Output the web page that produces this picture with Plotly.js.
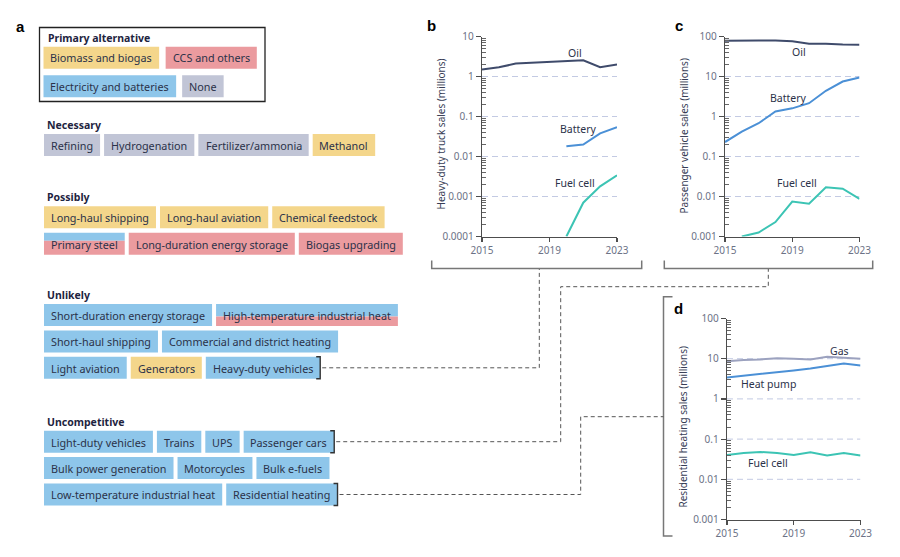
<!DOCTYPE html>
<html><head><meta charset="utf-8">
<script src="https://cdn.plot.ly/plotly-3.0.1.min.js"></script>
<style>html,body{margin:0;padding:0;background:#fff}#chart{width:900px;height:557px}</style>
</head><body><div id="chart"></div>
<script>
// ---------- DATA ----------
const years = [2015, 2016, 2017, 2018, 2019, 2020, 2021, 2022, 2023];
const truckOil = [1.5, 1.7, 2.1, 2.2, 2.3, 2.4, 2.55, 1.7, 2.0];
const truckBatteryYears = [2020, 2021, 2022, 2023];
const truckBattery = [0.018, 0.02, 0.038, 0.054];
const truckFuelCellYears = [2020, 2021, 2022, 2023];
const truckFuelCell = [0.0001, 0.0007, 0.0018, 0.0034];

const carOil = [78, 80, 80, 80, 76, 66, 66, 63, 62];
const carBattery = [0.23, 0.42, 0.68, 1.33, 1.6, 2.15, 4.4, 7.5, 9.4];
const carFuelCellYears = [2016, 2017, 2018, 2019, 2020, 2021, 2022, 2023];
const carFuelCell = [0.001, 0.00126, 0.0023, 0.0075, 0.0066, 0.0171, 0.0157, 0.0087];

const heatGas = [8.6, 9.3, 9.6, 10.2, 10, 9.6, 11.2, 10.8, 10];
const heatPump = [3.4, 3.75, 4.06, 4.55, 5.1, 5.7, 6.5, 7.6, 6.8];
const heatFuelCell = [0.04, 0.045, 0.048, 0.045, 0.04, 0.047, 0.039, 0.045, 0.039];

const xTickVals = [2015, 2019, 2023];
const truckTickVals = [10, 1, 0.1, 0.01, 0.001, 0.0001];
const truckTickText = ['10', '1', '0.1', '0.01', '0.001', '0.0001'];
const carTickVals = [100, 10, 1, 0.1, 0.01, 0.001];
const carTickText = ['100', '10', '1', '0.1', '0.01', '0.001'];
const heatTickVals = [100, 10, 1, 0.1, 0.01, 0.001];
const heatTickText = ['100', '10', '1', '0.1', '0.01', '0.001'];
const truckGridVals = [1, 0.1, 0.01, 0.001];
const carGridVals = [10, 1, 0.1, 0.01];
const heatGridVals = [10, 1, 0.1, 0.01];

const legendTitle = 'Primary alternative';
const legendLabels = ['Biomass and biogas', 'CCS and others', 'Electricity and batteries', 'None'];
const legendCats = ['bio', 'ccs', 'elec', 'none'];

const groupNames = ['Necessary', 'Possibly', 'Unlikely', 'Uncompetitive'];
const necessaryRows = [['Refining', 'Hydrogenation', 'Fertilizer/ammonia', 'Methanol']];
const necessaryCats = [['none', 'none', 'none', 'bio']];
const possiblyRows = [['Long-haul shipping', 'Long-haul aviation', 'Chemical feedstock'],
                      ['Primary steel', 'Long-duration energy storage', 'Biogas upgrading']];
const possiblyCats = [['bio', 'bio', 'bio'], ['elec+ccs', 'ccs', 'ccs']];
const unlikelyRows = [['Short-duration energy storage', 'High-temperature industrial heat'],
                      ['Short-haul shipping', 'Commercial and district heating'],
                      ['Light aviation', 'Generators', 'Heavy-duty vehicles']];
const unlikelyCats = [['elec', 'elec+ccs'], ['elec', 'elec'], ['elec', 'bio', 'elec']];
const uncompetitiveRows = [['Light-duty vehicles', 'Trains', 'UPS', 'Passenger cars'],
                           ['Bulk power generation', 'Motorcycles', 'Bulk e-fuels'],
                           ['Low-temperature industrial heat', 'Residential heating']];
const uncompetitiveCats = [['elec', 'elec', 'elec', 'elec'], ['elec', 'elec', 'elec'], ['elec', 'elec']];
const linkedItems = ['Heavy-duty vehicles', 'Passenger cars', 'Residential heating'];

// ---------- STYLE / LAYOUT ----------
const W = 900, H = 557;
const px = x => x / W, py = y => 1 - y / H;
const FONT = '"Noto Sans", sans-serif';
const catColor = {bio: '#f4d68b', ccs: '#eb9b9f', elec: '#8ec6ea', none: '#c1c5d6'};
const splitFrac = {'Primary steel': 0.37, 'High-temperature industrial heat': 0.57};
const C_OIL = '#3f4b6b', C_BAT = '#4b90d6', C_FC = '#3cc4b4', C_GAS = '#9ca2bf';
const TXT = '#2b3249', TICK = '#6c7286', AX = '#4d4d4d', GRID = '#c3cae3';
const BOX_FS = 10.8;

const shapes = [], annotations = [];
const canvas = document.createElement('canvas');
const ctx = canvas.getContext('2d');
ctx.font = BOX_FS + 'px "Noto Sans"';
const tw = s => ctx.measureText(s).width;

function rect(x0, y0, x1, y1, fill, line) {
  shapes.push({type: 'rect', xref: 'paper', yref: 'paper', x0: px(x0), x1: px(x1), y0: py(y1), y1: py(y0),
    fillcolor: fill || 'rgba(0,0,0,0)', line: line || {width: 0}, layer: 'below'});
}
function path(pts, color, width, dash) {
  const d = pts.map((p, i) => (i ? 'L' : 'M') + px(p[0]) + ',' + py(p[1])).join(' ');
  shapes.push({type: 'path', xref: 'paper', yref: 'paper', path: d, line: {color: color, width: width, dash: dash || 'solid'}});
}
function text(x, y, s, opts) {
  opts = opts || {};
  annotations.push(Object.assign({xref: 'paper', yref: 'paper', x: px(x), y: py(y), text: s, showarrow: false,
    xanchor: 'center', yanchor: 'middle', font: {family: FONT, size: BOX_FS, color: TXT}}, opts));
}
const PAD = 7, BOX_H = 22;
const linkPos = {};
function box(x, y, label, cat) {
  const w = tw(label) + 2 * PAD;
  if (cat.indexOf('+') > 0) {
    const [c1, c2] = cat.split('+');
    const f = splitFrac[label] || 0.5;
    rect(x, y, x + w, y + BOX_H * f, catColor[c1]);
    rect(x, y + BOX_H * f, x + w, y + BOX_H, catColor[c2]);
  } else {
    rect(x, y, x + w, y + BOX_H, catColor[cat]);
  }
  text(x + w / 2, y + BOX_H / 2 + 0.3, label);
  if (linkedItems.indexOf(label) >= 0) {
    linkPos[label] = {x: x + w, y: y + BOX_H / 2};
    path([[x + w - 4, y], [x + w, y], [x + w, y + BOX_H], [x + w - 4, y + BOX_H]], '#333', 1.4);
  }
  return w;
}

const headFont = {family: FONT, size: 10.5, color: '#1e2440'};
// legend box
rect(39.5, 27.5, 265, 101.5, null, {color: '#222', width: 1.3});
text(45.5, 38.5, '<b>' + legendTitle + '</b>', {xanchor: 'left', font: headFont});
(function () {
  let x = 43.5;
  for (let i = 0; i < 2; i++) { x += box(x, 46.7, legendLabels[i], legendCats[i]) + 6.5; }
  x = 43.5;
  for (let i = 2; i < 4; i++) { x += box(x, 75.2, legendLabels[i], legendCats[i]) + 6; }
})();

// groups
const groupRowsAll = [necessaryRows, possiblyRows, unlikelyRows, uncompetitiveRows];
const groupCatsAll = [necessaryCats, possiblyCats, unlikelyCats, uncompetitiveCats];
const groupHeadY = [125, 197.3, 295, 421.7];
groupNames.forEach((g, gi) => {
  text(44.5, groupHeadY[gi], '<b>' + g + '</b>', {xanchor: 'left', font: headFont});
  groupRowsAll[gi].forEach((row, ri) => {
    let x = 44;
    const y = groupHeadY[gi] + 9 + ri * 26.4;
    row.forEach((lab, k) => { x += box(x, y, lab, groupCatsAll[gi][ri][k]) + 4; });
  });
});

// panel letters
const letterFont = {family: 'Liberation Sans, Arial, sans-serif', size: 15, color: '#000'};
text(20.5, 26.7, '<b>a</b>', {font: letterFont});
text(431, 25, '<b>b</b>', {font: letterFont});
text(678.5, 25, '<b>c</b>', {font: letterFont});
text(678.5, 308.5, '<b>d</b>', {font: letterFont});

// y-axis titles
const titleFont = {family: FONT, size: 10, color: '#363c55'};
text(440.5, 134, 'Heavy-duty truck sales (millions)', {textangle: -90, font: titleFont});
text(683.5, 136, 'Passenger vehicle sales (millions)', {textangle: -90, font: titleFont});
text(682.5, 427, 'Residential heating sales (millions)', {textangle: -90, font: titleFont});

// line labels
const lblFont = {family: FONT, size: 10.5, color: TXT};
const lbl = (x, y, s) => text(x, y, s, {font: lblFont});
lbl(575, 52.7, 'Oil'); lbl(578, 129.3, 'Battery'); lbl(575, 183.3, 'Fuel cell');
lbl(799.3, 51.7, 'Oil'); lbl(788.3, 98.3, 'Battery'); lbl(796.7, 183.3, 'Fuel cell');
lbl(839.3, 350.7, 'Gas'); lbl(768.3, 384.3, 'Heat pump'); lbl(768.3, 463.3, 'Fuel cell');

// brackets
const BR = '#777';
path([[431.7, 260.5], [431.7, 268.5], [641.7, 268.5], [641.7, 260.5]], BR, 1.5);
path([[664.3, 260.5], [664.3, 268.5], [872.7, 268.5], [872.7, 260.5]], BR, 1.5);
path([[672.5, 296.7], [663.5, 296.7], [663.5, 536], [672.5, 536]], BR, 1.5);

// connectors
const DC = '#555', DASH = '4px,3px';
const hdv = linkPos['Heavy-duty vehicles'], pc = linkPos['Passenger cars'], rh = linkPos['Residential heating'];
path([[hdv.x + 2, hdv.y], [539.3, hdv.y], [539.3, 269]], DC, 1, DASH);
path([[pc.x + 2, pc.y], [560.7, pc.y], [560.7, 286.7], [768.3, 286.7], [768.3, 269]], DC, 1, DASH);
path([[rh.x + 2, rh.y], [580.7, rh.y], [580.7, 416.7], [663.5, 416.7]], DC, 1, DASH);

// ---------- TRACES ----------
const traces = [];
function gridTraces(vals, xa, ya) {
  vals.forEach(v => traces.push({x: [xTickVals[0], xTickVals[xTickVals.length - 1]], y: [v, v], xaxis: xa, yaxis: ya,
    mode: 'lines', line: {color: GRID, width: 1, dash: '6px,4px'}, hoverinfo: 'skip', showlegend: false}));
}
gridTraces(truckGridVals, 'x', 'y');
gridTraces(carGridVals, 'x2', 'y2');
gridTraces(heatGridVals, 'x3', 'y3');
function line(x, y, color, xa, ya) {
  traces.push({x: x, y: y, xaxis: xa, yaxis: ya, mode: 'lines', line: {color: color, width: 2}, showlegend: false, cliponaxis: false});
}
line(years, truckOil, C_OIL, 'x', 'y');
line(truckBatteryYears, truckBattery, C_BAT, 'x', 'y');
line(truckFuelCellYears, truckFuelCell, C_FC, 'x', 'y');
line(years, carOil, C_OIL, 'x2', 'y2');
line(years, carBattery, C_BAT, 'x2', 'y2');
line(carFuelCellYears, carFuelCell, C_FC, 'x2', 'y2');
line(years, heatGas, C_GAS, 'x3', 'y3');
line(years, heatPump, C_BAT, 'x3', 'y3');
line(years, heatFuelCell, C_FC, 'x3', 'y3');

// ---------- AXES ----------
const tickFont = {family: FONT, size: 10, color: TICK};
function minorVals(decades) {
  const out = [];
  decades.forEach(d => { for (let k = 2; k <= 9; k++) out.push(d * k); });
  return out;
}
function xAxis(d0, d1, anchor) {
  return {domain: [px(d0), px(d1)], anchor: anchor, range: [2015, 2023], tickmode: 'array', tickvals: xTickVals,
    ticks: 'outside', ticklen: 4, tickcolor: AX, tickwidth: 1.2, showline: true, linecolor: AX, linewidth: 1.3,
    showgrid: false, zeroline: false, tickfont: tickFont, fixedrange: true};
}
function yAxis(top, bottom, anchor, r, tv, tt) {
  return {domain: [py(bottom), py(top)], anchor: anchor, type: 'log', range: r, tickmode: 'array', tickvals: tv, ticktext: tt,
    ticks: 'outside', ticklen: 5, tickcolor: AX, tickwidth: 1.2, showline: true, linecolor: AX, linewidth: 1.3,
    showgrid: false, zeroline: false, tickfont: tickFont, fixedrange: true,
    minor: {tickmode: 'array', tickvals: minorVals(tv.slice(1)), ticks: 'inside', ticklen: 3.5, tickcolor: '#666', tickwidth: 1, showgrid: false}};
}
const layout = {
  width: W, height: H, margin: {l: 0, r: 0, t: 0, b: 0}, paper_bgcolor: '#fff', plot_bgcolor: 'rgba(0,0,0,0)',
  showlegend: false,
  xaxis: xAxis(482, 617, 'y'),
  yaxis: yAxis(36.5, 236.5, 'x', [-4, 1], truckTickVals, truckTickText),
  xaxis2: xAxis(725, 859.5, 'y2'),
  yaxis2: yAxis(36.5, 236.5, 'x2', [-3, 2], carTickVals, carTickText),
  xaxis3: xAxis(727, 860.5, 'y3'),
  yaxis3: yAxis(318.5, 519.5, 'x3', [-3, 2], heatTickVals, heatTickText),
  shapes: shapes, annotations: annotations
};
Plotly.newPlot('chart', traces, layout, {displayModeBar: false, staticPlot: true});
</script></body></html>
